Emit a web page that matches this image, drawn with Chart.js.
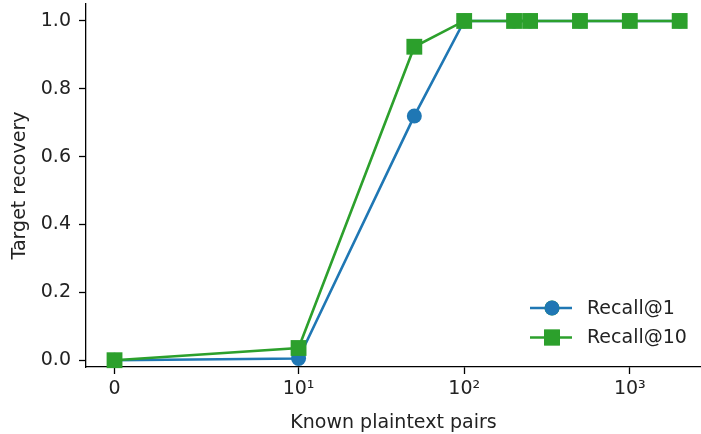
<!DOCTYPE html>
<html>
<head>
<meta charset="utf-8">
<script src="https://cdn.jsdelivr.net/npm/chart.js@4"></script>
<style>
  html, body { margin: 0; padding: 0; background: #fff; }
  #wrap { width: 701px; height: 434px; }
</style>
</head>
<body>
<div id="wrap"><canvas id="chart" width="701" height="434"></canvas></div>
<script>
// known plaintext pairs (x) and recovery values
const pairs = [0, 10, 50, 100, 200, 250, 500, 1000, 2000];
const recall1 = [0.0, 0.005, 0.72, 1.0, 1.0, 1.0, 1.0, 1.0, 1.0];
const recall10 = [0.0, 0.036, 0.924, 1.0, 1.0, 1.0, 1.0, 1.0, 1.0];
const xTicks = [0, 10, 100, 1000];
const xTickLabels = ['0', '10\u00b9', '10\u00b2', '10\u00b3'];
const yTicks = [0, 0.2, 0.4, 0.6, 0.8, 1.0];

const FONT = 'DejaVu Sans';
const FS = 19;

// symlog transform, linthresh 10, linscale 1 (same as matplotlib)
const LINTHRESH = 10;
const LINSCALE = 1 / (1 - 1 / 10);
function symlog(v) {
    const a = Math.abs(v);
    const t = a < LINTHRESH ? a / LINTHRESH * LINSCALE : LINSCALE + Math.log10(a / LINTHRESH);
    return v < 0 ? -t : t;
}
function symexp(t) {
    const a = Math.abs(t);
    const v = a < LINSCALE ? a / LINSCALE * LINTHRESH : LINTHRESH * Math.pow(10, a - LINSCALE);
    return t < 0 ? -v : v;
}

class SymlogScale extends Chart.LinearScale {
    buildTicks() {
        return xTicks.map(v => ({ value: v }));
    }
    configure() {
        super.configure();
        this._tMin = symlog(this.min);
        this._tMax = symlog(this.max);
    }
    getPixelForValue(value) {
        return this.getPixelForDecimal((symlog(value) - this._tMin) / (this._tMax - this._tMin));
    }
    getValueForPixel(pixel) {
        return symexp(this._tMin + this.getDecimalForPixel(pixel) * (this._tMax - this._tMin));
    }
}
SymlogScale.id = 'symlog';
SymlogScale.defaults = {};
Chart.register(SymlogScale);

// legend drawn inside the plot, lower right, matplotlib style
const innerLegend = {
    id: 'innerLegend',
    afterDraw(chart) {
        const ctx = chart.ctx;
        const area = chart.chartArea;
        const x0 = area.right - 171, y0 = area.bottom - 59, gap = 29.5;
        chart.data.datasets.forEach((ds, i) => {
            const y = y0 + i * gap;
            ctx.save();
            ctx.strokeStyle = ds.borderColor;
            ctx.lineWidth = ds.borderWidth;
            ctx.beginPath();
            ctx.moveTo(x0, y);
            ctx.lineTo(x0 + 42, y);
            ctx.stroke();
            Chart.helpers.drawPoint(ctx, {
                pointStyle: ds.pointStyle, radius: ds.pointRadius, borderWidth: 0, rotation: 0
            }, x0 + 22, y);
            ctx.fillStyle = ds.backgroundColor;
            ctx.fill();
            ctx.fillStyle = '#222';
            ctx.font = FS + 'px "' + FONT + '"';
            ctx.textBaseline = 'middle';
            ctx.fillText(ds.label, x0 + 57, y + 1);
            ctx.restore();
        });
    }
};

const points = vals => pairs.map((p, i) => ({ x: p, y: vals[i] }));

new Chart(document.getElementById('chart'), {
    type: 'line',
    data: {
        datasets: [{
            label: 'Recall@1',
            data: points(recall1),
            borderColor: '#1f77b4',
            backgroundColor: '#1f77b4',
            borderWidth: 2.6,
            pointStyle: 'circle',
            pointRadius: 7.5,
            pointBorderWidth: 0,
            order: 1
        }, {
            label: 'Recall@10',
            data: points(recall10),
            borderColor: '#2ca02c',
            backgroundColor: '#2ca02c',
            borderWidth: 2.6,
            pointStyle: 'rect',
            pointRadius: 11.2,
            pointBorderWidth: 0,
            order: 0
        }]
    },
    options: {
        responsive: false,
        animation: false,
        clip: false,
        layout: { autoPadding: false, padding: { top: 4, right: 0, left: 0, bottom: 0 } },
        plugins: {
            legend: { display: false },
            tooltip: { enabled: false }
        },
        elements: { line: { tension: 0 } },
        scales: {
            x: {
                type: 'symlog',
                min: -1.55,
                max: 2690,
                afterFit: s => { s.height = 67; s.paddingLeft = 0; s.paddingRight = 0; },
                border: { display: true, color: '#000', width: 1.3 },
                grid: { drawOnChartArea: false, drawTicks: true, tickLength: 7, tickWidth: 1.3, tickColor: '#000' },
                ticks: {
                    color: '#222',
                    font: { family: FONT, size: FS },
                    padding: 4,
                    maxRotation: 0,
                    autoSkip: false,
                    callback: (v, i) => xTickLabels[i]
                },
                title: {
                    display: true,
                    text: 'Known plaintext pairs',
                    color: '#222',
                    font: { family: FONT, size: FS },
                    padding: { top: 2, bottom: 0 }
                }
            },
            y: {
                min: -0.02,
                max: 1.05,
                afterBuildTicks: s => { s.ticks = yTicks.map(v => ({ value: v })); },
                afterFit: s => { s.width = 86; s.paddingTop = 0; s.paddingBottom = 0; },
                border: { display: true, color: '#000', width: 1.3 },
                grid: { drawOnChartArea: false, drawTicks: true, tickLength: 7, tickWidth: 1.3, tickColor: '#000' },
                ticks: {
                    color: '#222',
                    font: { family: FONT, size: FS },
                    padding: 8,
                    callback: v => v.toFixed(1)
                },
                title: {
                    display: true,
                    text: 'Target recovery',
                    color: '#222',
                    font: { family: FONT, size: FS },
                    padding: { top: 9, bottom: 0 }
                }
            }
        }
    },
    plugins: [innerLegend]
});
</script>
</body>
</html>
